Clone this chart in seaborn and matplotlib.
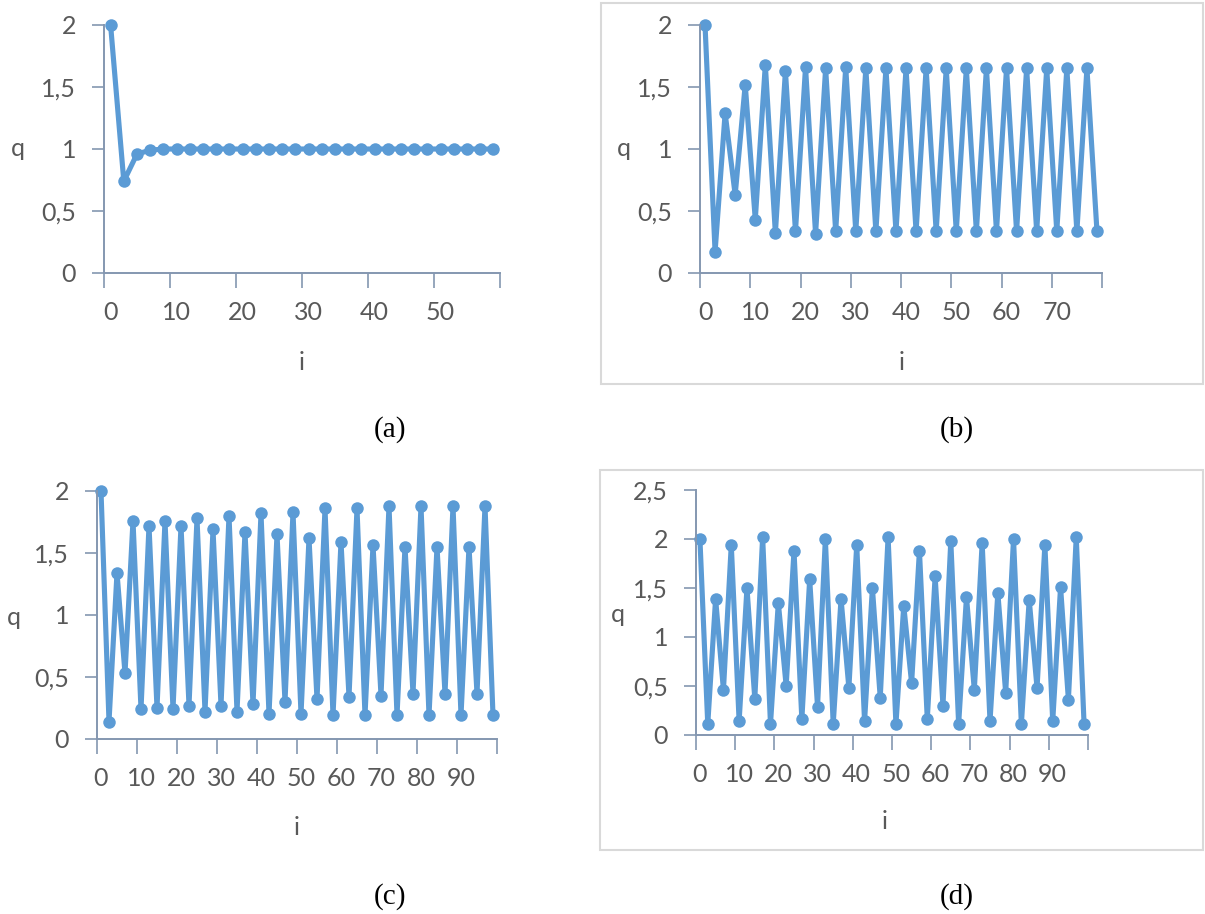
# q vs i for four runs, drawn like the Excel line charts in the paper figure

import numpy as np
import matplotlib
matplotlib.use("Agg")
import matplotlib.pyplot as plt
import seaborn as sns
from matplotlib.patches import Rectangle

# values (one point every 2 steps of i)
i_a = list(range(0, 60, 2))
q_a = [2.0, 0.74, 0.96, 0.99] + [1.0] * 26

i_b = list(range(0, 80, 2))
q_b = [2.0, 0.17, 1.29, 0.63, 1.52, 0.43, 1.68, 0.32, 1.63, 0.335,
       1.66, 0.315, 1.65, 0.335, 1.66, 0.335, 1.65, 0.335, 1.65, 0.335,
       1.65, 0.335, 1.65, 0.335, 1.65, 0.335, 1.65, 0.335, 1.65, 0.335,
       1.65, 0.335, 1.65, 0.335, 1.65, 0.335, 1.65, 0.335, 1.65, 0.335]

i_c = list(range(0, 100, 2))
q_c = [2.0, 0.14, 1.34, 0.53, 1.76, 0.24, 1.72, 0.25, 1.76, 0.24,
       1.72, 0.27, 1.78, 0.22, 1.69, 0.27, 1.80, 0.22, 1.67, 0.28,
       1.82, 0.20, 1.65, 0.30, 1.83, 0.20, 1.62, 0.32, 1.86, 0.19,
       1.59, 0.34, 1.86, 0.19, 1.565, 0.35, 1.88, 0.19, 1.55, 0.365,
       1.88, 0.19, 1.55, 0.365, 1.88, 0.19, 1.55, 0.365, 1.88, 0.19]

i_d = list(range(0, 100, 2))
q_d = [2.0, 0.11, 1.39, 0.46, 1.94, 0.14, 1.50, 0.37, 2.02, 0.11,
       1.35, 0.50, 1.88, 0.16, 1.59, 0.29, 2.0, 0.11, 1.39, 0.48,
       1.94, 0.14, 1.50, 0.38, 2.02, 0.11, 1.32, 0.53, 1.88, 0.16,
       1.62, 0.30, 1.98, 0.11, 1.41, 0.46, 1.96, 0.14, 1.45, 0.43,
       2.0, 0.11, 1.38, 0.48, 1.94, 0.14, 1.51, 0.36, 2.02, 0.11]

panels = [
    # data, y ticks, axes rect (pixels: left, right, y of 0, y of top), q pos, i pos, caption
    (i_a, q_a, [0, 0.5, 1, 1.5, 2], (104, 500, 273, 25), (-0.217, 0.5), (0.5, -0.359), "(a)", (390, 430)),
    (i_b, q_b, [0, 0.5, 1, 1.5, 2], (700, 1102, 273, 25), (-0.19, 0.5), (0.502, -0.359), "(b)", (957, 430)),
    (i_c, q_c, [0, 0.5, 1, 1.5, 2], (97, 497, 739, 491), (-0.2075, 0.49), (0.5, -0.355), "(c)", (390, 897)),
    (i_d, q_d, [0, 0.5, 1, 1.5, 2, 2.5], (696, 1088, 735, 490), (-0.2, 0.49), (0.482, -0.355), "(d)", (957, 897)),
]

W, H = 1205, 914
sns.set_theme(style="white")
plt.rcParams['font.family'] = ['Lato', 'DejaVu Sans']

blue = "#5B9BD5"
axcol = "#8497B0"
txt = "#595959"
fs = 18

fig = plt.figure(figsize=(W / 100, H / 100), dpi=100)

for xs, ys, yt, (l, r, y0, y1), qpos, ipos, cap, cpos in panels:
    ax = fig.add_axes([l / W, 1 - y0 / H, (r - l) / W, (y0 - y1) / H])
    sns.lineplot(x=xs, y=ys, ax=ax, color=blue, linewidth=3.7, marker="o",
                 markersize=9, markeredgewidth=0, clip_on=False)
    n = len(xs)
    ax.set_xlim(-1, 2 * n - 1)
    ax.set_ylim(yt[0], yt[-1])

    # excel category axis: ticks between groups, labels under categories
    ax.set_xticks(np.arange(-1, 2 * n, 10))
    ax.set_xticklabels([])
    ax.set_xticks(np.arange(0, 2 * n - 1, 10), minor=True)
    ax.set_xticklabels([str(v) for v in range(0, 2 * n - 1, 10)], minor=True)
    ax.tick_params(axis="x", which="major", length=11, width=1.2, color=axcol, direction="out", bottom=True)
    ax.tick_params(axis="x", which="minor", length=0, pad=20, labelsize=fs, labelcolor=txt, bottom=True)

    ax.set_yticks(yt)
    ax.set_yticklabels([("%g" % v).replace(".", ",") for v in yt])
    ax.tick_params(axis="y", length=9, width=1.2, color=axcol, direction="out", left=True,
                   pad=11, labelsize=fs, labelcolor=txt)

    for s in ["top", "right"]:
        ax.spines[s].set_visible(False)
    for s in ["left", "bottom"]:
        ax.spines[s].set_color(axcol)
        ax.spines[s].set_linewidth(1.4)
    ax.grid(False)
    ax.patch.set_alpha(0)

    ax.set_ylabel("q", rotation=0, fontsize=fs, color=txt, va="center", ha="center")
    ax.yaxis.set_label_coords(*qpos)
    ax.set_xlabel("i", fontsize=fs, color=txt, va="center", ha="center")
    ax.xaxis.set_label_coords(*ipos)

    fig.text(cpos[0] / W, 1 - cpos[1] / H, cap, ha="center", va="center",
             fontsize=21, family=["Liberation Serif", "DejaVu Serif"], color="black")

# light frames round (b) and (d)
for x0, yt0, x1, yb in [(601, 3, 1203, 384), (600, 470, 1203, 850)]:
    fig.patches.append(Rectangle((x0 / W, 1 - yb / H), (x1 - x0) / W, (yb - yt0) / H,
                                 transform=fig.transFigure, fill=False,
                                 edgecolor="#D9D9D9", linewidth=1.5))

plt.savefig("out.png", dpi=100)
